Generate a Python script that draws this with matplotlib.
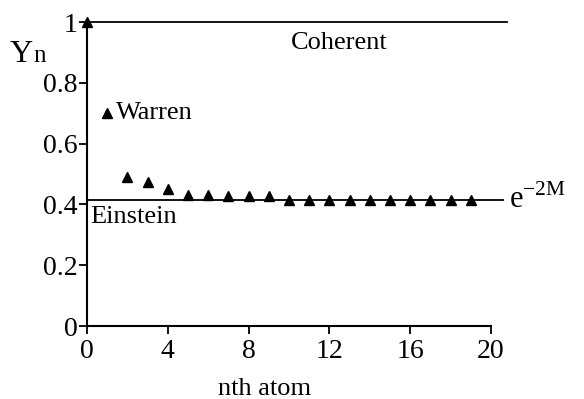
import matplotlib.pyplot as plt
import numpy as np

plt.rcParams['font.family'] = ['Liberation Serif', 'DejaVu Serif']
plt.rcParams['mathtext.fontset'] = 'custom'
plt.rcParams['mathtext.rm'] = 'Liberation Serif'

# Warren values, n = 0 .. 19
n_atom = list(range(0, 20))
y_warren = [1.0, 0.70, 0.49, 0.475, 0.45, 0.432, 0.432, 0.428, 0.428, 0.428,
            0.415, 0.415, 0.415, 0.415, 0.415, 0.415, 0.415, 0.415, 0.415, 0.415]
coherent = 1.0
einstein = 0.415
x_ticks = [0, 4, 8, 12, 16, 20]
y_ticks = [0, 0.2, 0.4, 0.6, 0.8, 1]
y_ticklabels = ['0', '0.2', '0.4', '0.6', '0.8', '1']

fig = plt.figure(figsize=(5.84, 3.99), dpi=100)
ax = fig.add_axes([87 / 584, 1 - 326 / 399, 404 / 584, 304 / 399])

# reference lines, run a bit past the end of the axis
ax.plot([0, 20.8], [coherent, coherent], color='black', lw=1.3, clip_on=False)
ax.plot([0, 20.6], [einstein, einstein], color='black', lw=1.3, clip_on=False)

ax.plot(n_atom, y_warren, linestyle='none', marker='^', color='black',
        markersize=7, clip_on=False, zorder=5)

ax.set_xlim(0, 20)
ax.set_ylim(0, 1)
ax.set_xticks(x_ticks)
ax.set_xticklabels([str(t) for t in x_ticks])
ax.set_yticks(y_ticks)
ax.set_yticklabels(y_ticklabels)
for s in ['top', 'right']:
    ax.spines[s].set_visible(False)
for s in ['left', 'bottom']:
    ax.spines[s].set_linewidth(1.5)
ax.tick_params(direction='out', length=6, width=1.3, labelsize=20, pad=1,
               colors='black')
ax.tick_params(axis='x', pad=3)

ax.set_xlabel('nth atom', fontsize=19)
ax.xaxis.set_label_coords(0.44, -0.17)

ax.text(10.1, 0.93, 'Coherent', fontsize=19, va='center', ha='left')
ax.text(1.45, 0.70, 'Warren', fontsize=19, va='center', ha='left')
ax.text(0.15, 0.36, 'Einstein', fontsize=19, va='center', ha='left')
ax.text(20.9, 0.415, r'e$^{\mathregular{-2M}}$', fontsize=22, va='center',
        ha='left', clip_on=False)

fig.text(10 / 584, 1 - 62 / 399, 'Y', fontsize=23, va='baseline', ha='left')
fig.text(33 / 584, 1 - 62 / 399, 'n', fontsize=18, va='baseline', ha='left')

fig.savefig('out.png', dpi=100)
